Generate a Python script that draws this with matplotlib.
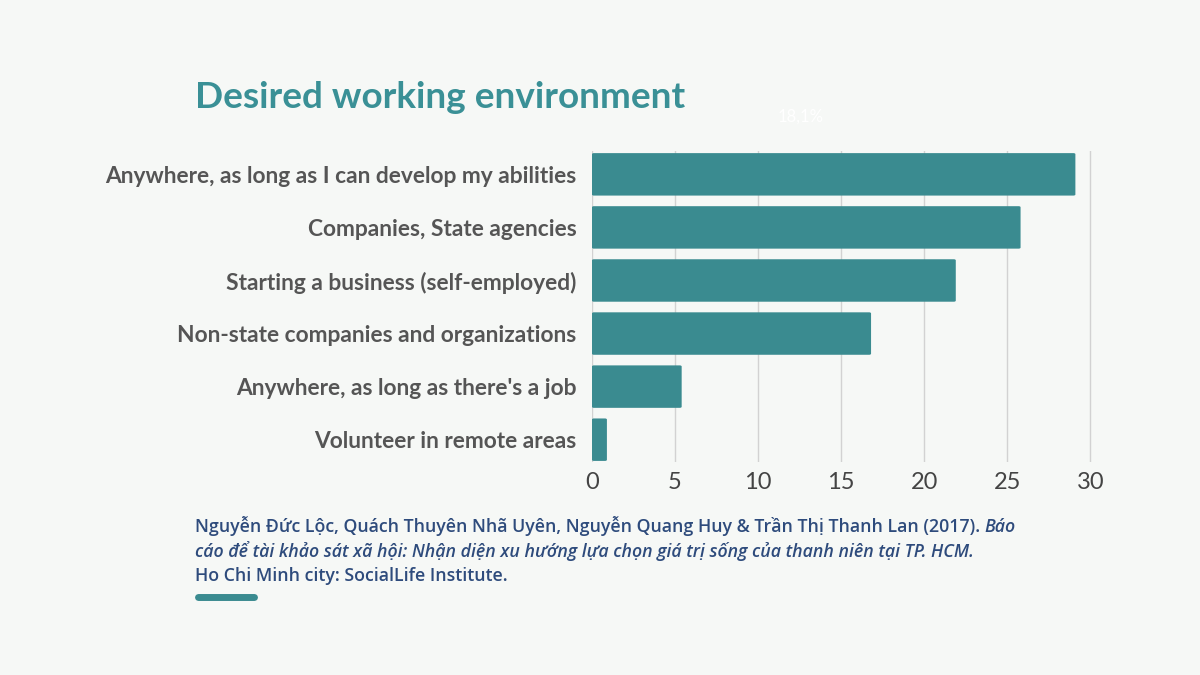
import matplotlib
matplotlib.use('Agg')

import matplotlib.pyplot as plt
from matplotlib.patches import FancyBboxPatch

# survey answers, percent of respondents
categories = ['Anywhere, as long as I can develop my abilities',
              'Companies, State agencies',
              'Starting a business (self-employed)',
              'Non-state companies and organizations',
              "Anywhere, as long as there's a job",
              'Volunteer in remote areas']
values = [29.1, 25.8, 21.9, 16.8, 5.4, 0.9]
xticks = [0, 5, 10, 15, 20, 25, 30]

title = 'Desired working environment'
cite_normal1 = ('Nguyễn Đức Lộc, Quách Thuyên Nhã Uyên, Nguyễn Quang Huy & '
                'Trần Thị Thanh Lan (2017). ')
cite_italic1 = 'Báo'
cite_italic2 = ('cáo để tài khảo sát xã hội: Nhận diện xu hướng lựa chọn '
                'giá trị sống của thanh niên tại TP. HCM.')
cite_normal3 = 'Ho Chi Minh city: SocialLife Institute.'

BG = '#f6f8f6'
TEAL = '#3a8b90'
GREY = '#555555'
NAVY = '#2e4b7c'

fig = plt.figure(figsize=(12, 6.75), dpi=100, facecolor=BG)
ax = fig.add_axes([0.4933, 0.3156, 0.4167, 0.4607])
ax.set_facecolor(BG)

pos = list(range(len(categories)))
for p, v in zip(pos, values):
    bar = FancyBboxPatch((0, p - 0.4), v, 0.8,
                         boxstyle='round,pad=0,rounding_size=0.12',
                         mutation_aspect=1 / 6.0,
                         facecolor=TEAL, edgecolor='none', zorder=3)
    ax.add_patch(bar)

ax.set_xlim(0, 30.1)
ax.set_ylim(5.42, -0.44)
ax.set_yticks(pos)
ax.set_yticklabels(categories, fontsize=16.4, fontweight='bold', color=GREY,
                   family=['Lato', 'DejaVu Sans'])
ax.set_xticks(xticks)
ax.set_xticklabels([str(t) for t in xticks], fontsize=17, color='#444444',
                   family=['Lato', 'DejaVu Sans'])
ax.tick_params(axis='both', length=0)
ax.tick_params(axis='y', pad=11)
ax.tick_params(axis='x', pad=7)
ax.grid(axis='x', color='#d2d2d2', linewidth=1, zorder=0)
for s in ax.spines.values():
    s.set_visible(False)

fig.text(0.1625, 0.856, title, fontsize=26.6, fontweight='bold', color='#3a9096',
         family=['Lato', 'DejaVu Sans'], va='center')
# faint label left over in the source picture
fig.text(0.667, 0.827, '18,1%', fontsize=12, color='white', ha='center',
         va='center', family=['Lato', 'DejaVu Sans'])

# citation, mixed upright / italic
cfont = dict(fontsize=12.8, fontweight='semibold', color=NAVY,
             family=['Open Sans', 'Noto Sans', 'DejaVu Sans'])
x0 = 195 / 1200.0
y1 = 1 - 532 / 675.0
y2 = 1 - 557 / 675.0
y3 = 1 - 581 / 675.0
t1 = fig.text(x0, y1, cite_normal1, va='baseline', **cfont)
fig.canvas.draw()
w = t1.get_window_extent().width / 1200.0
fig.text(x0 + w, y1, cite_italic1, va='baseline', style='italic', **cfont)
fig.text(x0, y2, cite_italic2, va='baseline', style='italic', **cfont)
fig.text(x0, y3, cite_normal3, va='baseline', **cfont)

# short accent line below the citation
fig.add_artist(plt.Line2D([198 / 1200.0, 254 / 1200.0],
                          [1 - 597 / 675.0, 1 - 597 / 675.0],
                          color=TEAL, linewidth=5, solid_capstyle='round'))

fig.savefig('out.png', dpi=100, facecolor=BG)
